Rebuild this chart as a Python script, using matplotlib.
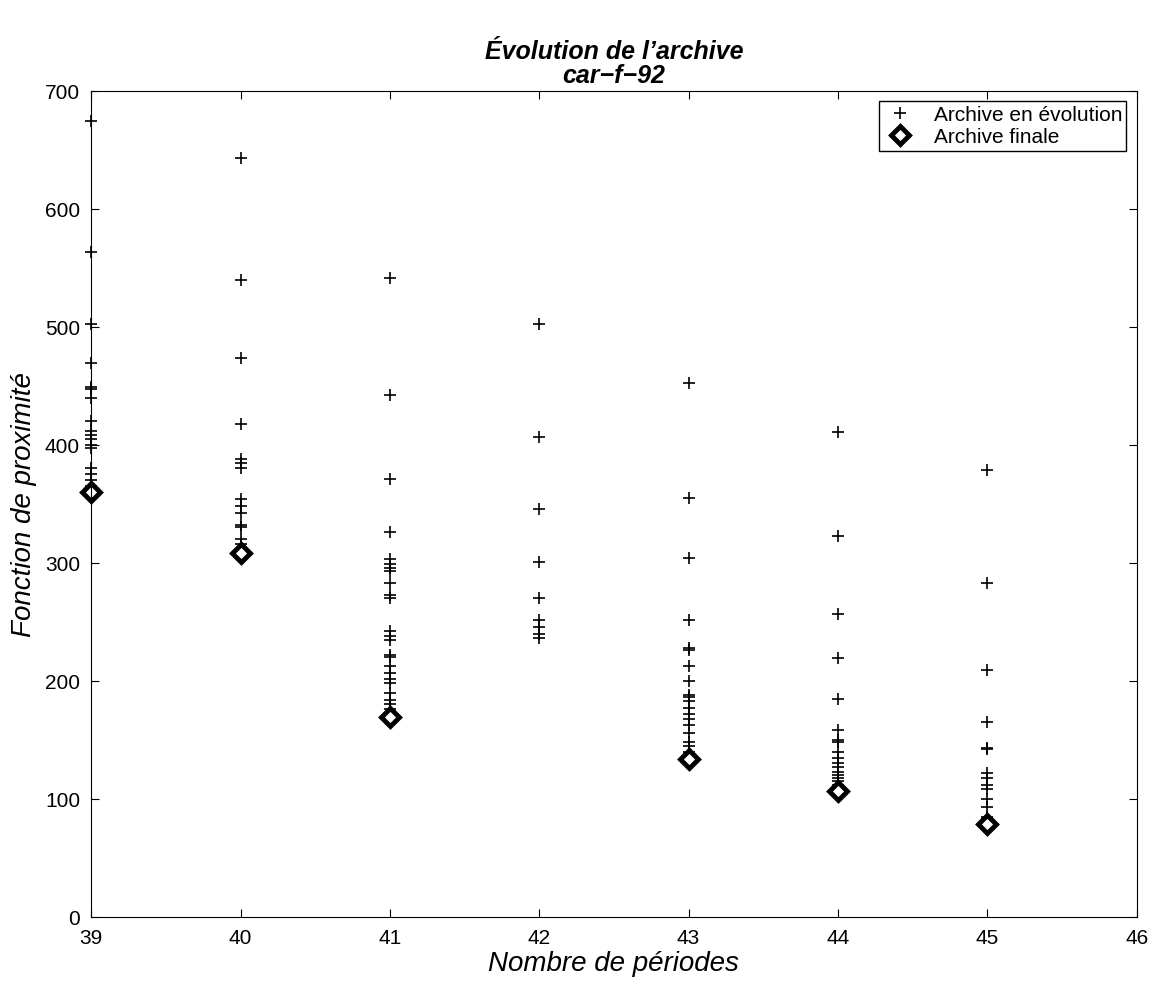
import matplotlib.pyplot as plt

plt.rcParams['font.family'] = ['Liberation Sans', 'DejaVu Sans']

# archive values per number of periods
periods = [39, 40, 41, 42, 43, 44, 45]
archive_39 = [674, 563, 502, 469, 449, 447, 440, 420, 412, 408, 405, 400, 397, 380, 375, 370, 365, 362]
archive_40 = [643, 540, 474, 418, 388, 385, 380, 354, 348, 342, 332, 330, 320, 316, 312, 309]
archive_41 = [541, 442, 371, 326, 303, 299, 296, 293, 283, 273, 270, 242, 238, 235, 222, 220,
              213, 207, 202, 198, 190, 184, 180, 176, 172]
archive_42 = [502, 407, 346, 301, 270, 252, 246, 240, 236]
archive_43 = [452, 355, 304, 252, 228, 226, 213, 200, 188, 186, 183, 177, 172, 168, 163, 156,
              148, 145, 140, 137]
archive_44 = [411, 323, 257, 219, 185, 158, 150, 148, 140, 135, 130, 127, 123, 120, 118, 115, 112, 110]
archive_45 = [379, 283, 209, 165, 143, 142, 122, 118, 112, 108, 100, 93, 85, 83, 81]
final_periods = [39, 40, 41, 43, 44, 45]
final_values = [360, 308, 169, 134, 107, 79]

archives = [archive_39, archive_40, archive_41, archive_42, archive_43, archive_44, archive_45]

fig = plt.figure(figsize=(11.54, 9.87), dpi=100)
ax = fig.add_axes([0.079, 0.070, 0.906, 0.837])

xs = []
ys = []
for p, vals in zip(periods, archives):
    xs += [p] * len(vals)
    ys += vals
ax.plot(xs, ys, '+', color='black', markersize=9, markeredgewidth=1.2,
        label='Archive en évolution', clip_on=False)
ax.plot(final_periods, final_values, 'D', color='black', markerfacecolor='white',
        markersize=9, markeredgewidth=3.5, label='Archive finale', clip_on=False)

ax.set_xlim(39, 46)
ax.set_ylim(0, 700)
ax.set_xticks(range(39, 47))
ax.set_yticks(range(0, 701, 100))
ax.tick_params(direction='in', top=True, right=True, labelsize=15, length=6, pad=8)

ax.set_xlabel('Nombre de périodes', fontsize=20, style='italic', labelpad=2)
ax.set_ylabel('Fonction de proximité', fontsize=20, style='italic', labelpad=6)
ax.set_title('Évolution de l\u2019archive\ncar\u2212f\u221292', fontsize=18,
             fontweight='bold', style='italic', pad=6, linespacing=1.0)

leg = ax.legend(loc='upper right', fontsize=15, fancybox=False, framealpha=1,
                edgecolor='black', borderaxespad=0.5, handletextpad=0.8,
                borderpad=0.2, labelspacing=0.15, handlelength=1.6)
leg.get_frame().set_linewidth(1.0)

fig.savefig('out.png', dpi=100)
